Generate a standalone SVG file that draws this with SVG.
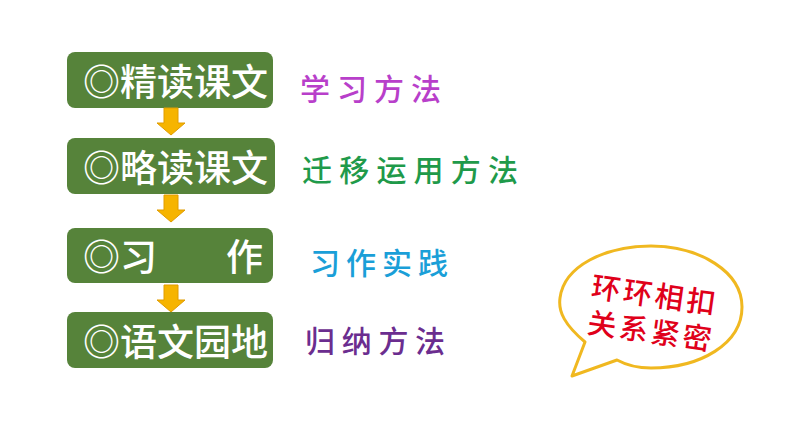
<svg xmlns="http://www.w3.org/2000/svg" width="794" height="447" viewBox="0 0 794 447">
  <defs>
    <style>
      .box { fill: #56833a; }
      .bt { font-family: "Noto Sans CJK SC", "Noto Sans", sans-serif; font-size: 37px; font-weight: 500; fill: #ffffff; dominant-baseline: central; }
      .rt { font-family: "Noto Sans CJK SC", "Noto Sans", sans-serif; font-size: 30px; font-weight: 500; dominant-baseline: central; letter-spacing: 7px; }
      .arr { fill: #f6b400; stroke: #e09c00; stroke-width: 1; }
      .bub { font-family: "Noto Sans CJK SC", "Noto Sans", sans-serif; font-size: 29px; font-weight: 500; fill: #e0001a; dominant-baseline: central; letter-spacing: 3px; }
    </style>
    <path id="downArrow" d="M-7,0 H7 V15 H14 L0,27 L-14,15 H-7 Z"/>
  </defs>
  <rect width="794" height="447" fill="#ffffff"/>

  <g id="node-jingdu">
    <rect class="box" x="67" y="52" width="206" height="56" rx="8"/>
    <text class="bt" x="83" y="80">◎精读课文</text>
  </g>
  <g id="node-luedu">
    <rect class="box" x="67" y="138" width="208" height="56" rx="8"/>
    <text class="bt" x="83" y="166">◎略读课文</text>
  </g>
  <g id="node-xizuo">
    <rect class="box" x="67" y="228" width="206" height="55" rx="8"/>
    <text class="bt" x="83" y="255">◎习</text>
    <text class="bt" x="226" y="255">作</text>
  </g>
  <g id="node-yuwen">
    <rect class="box" x="67" y="312" width="206" height="56" rx="8"/>
    <text class="bt" x="83" y="340">◎语文园地</text>
  </g>

  <g id="connectors">
    <use href="#downArrow" class="arr" x="171" y="108"/>
    <use href="#downArrow" class="arr" x="171" y="195"/>
    <use href="#downArrow" class="arr" x="171" y="285"/>
  </g>

  <g id="labels">
    <text class="rt" x="300" y="87" fill="#b83fca">学习方法</text>
    <text class="rt" x="302" y="168" fill="#1f9a4a" style="letter-spacing:7.2px">迁移运用方法</text>
    <text class="rt" x="310" y="261" fill="#1a9fd8" style="letter-spacing:6px">习作实践</text>
    <text class="rt" x="305" y="339" fill="#6b2d8f" style="letter-spacing:6.7px">归纳方法</text>
  </g>

  <g id="bubble">
    <path d="M585,342 C565,325 558,312 560,298 C564,266 605,246 651,246 C700,246 742,272 742,307 C742,344 700,368 651,368 C638,368 628,366 617,360 L572,376 Z" fill="#ffffff" stroke="#f0b820" stroke-width="3" stroke-linejoin="round"/>
    <text class="bub" x="592" y="284" transform="rotate(8 592 284)">环环相扣</text>
    <text class="bub" x="588" y="320" transform="rotate(8 588 320)">关系紧密</text>
  </g>
</svg>
